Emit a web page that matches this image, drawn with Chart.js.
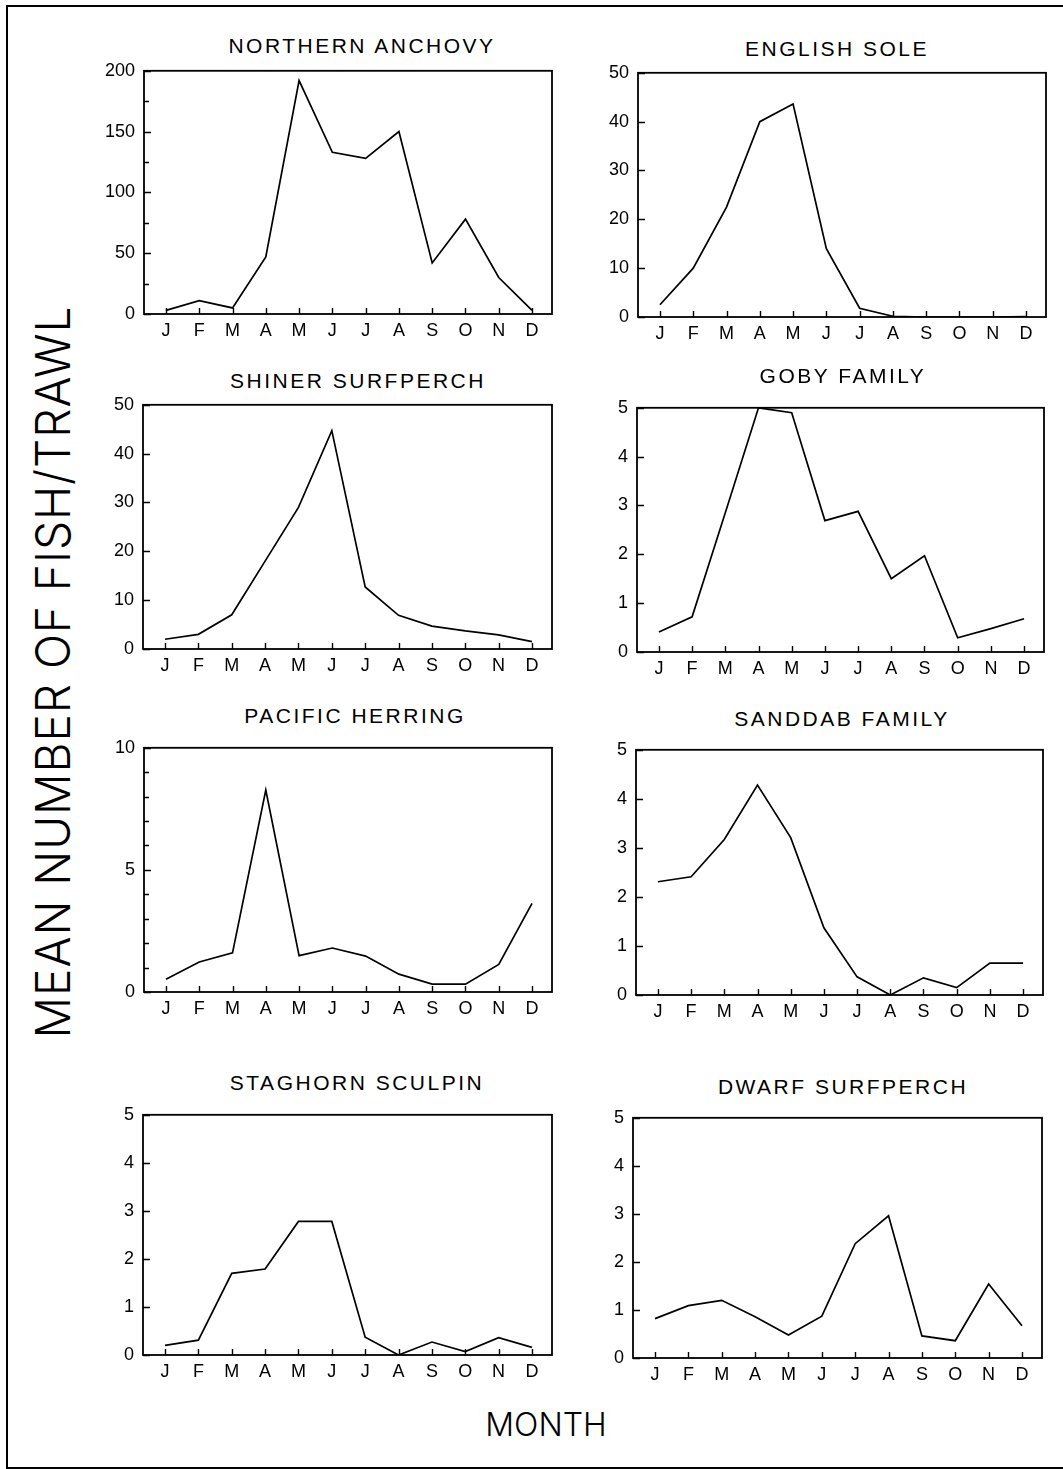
<!DOCTYPE html>
<html>
<head>
<meta charset="utf-8">
<script src="https://cdn.jsdelivr.net/npm/chart.js@4"></script>
<style>
  html, body { margin: 0; padding: 0; background: #fff; }
  #page { position: relative; width: 1063px; height: 1469px; overflow: hidden; background: #fff; }
  #page canvas { position: absolute; }
  .frame { position: absolute; left: 6px; top: 5px; width: 1080px; height: 1460px; border: 2px solid #000; }
  .titre { position: absolute; transform: translate(-50%, -50%); white-space: nowrap;
           font: 21px 'Liberation Sans', Arial, sans-serif; letter-spacing: 2.5px; color: #000; line-height: 1; }
  .ylab { position: absolute; left: 52px; top: 672px; white-space: nowrap; color: #000; line-height: 1;
          font: 300 48px Inter, Roboto, 'Liberation Sans', sans-serif; letter-spacing: 1px;
          transform: translate(-50%, -50%) rotate(-90deg) scaleX(0.96); }
  .xlab { position: absolute; left: 546px; top: 1424px; white-space: nowrap; color: #000; line-height: 1;
          font: 300 32px Inter, Roboto, 'Liberation Sans', sans-serif; transform: translate(-50%, -50%); }
</style>
</head>
<body>
<div id="page">
  <div class="frame"></div>
  <div class="ylab">MEAN NUMBER OF FISH/TRAWL</div>
  <div class="xlab">MONTH</div>
</div>
<script>
// Données (moyenne de poissons par trait, par mois)
const MONTHS = ['J', 'F', 'M', 'A', 'M', 'J', 'J', 'A', 'S', 'O', 'N', 'D'];

const anchovy     = [3, 11, 5, 47, 192, 133, 128, 150, 42, 78, 30, 3];
const englishSole = [2.5, 10, 22.5, 40, 43.6, 14, 1.8, 0.15, 0, 0, 0, 0.1];
const shiner      = [2, 3, 7, 18, 29, 44.7, 12.7, 6.9, 4.7, 3.7, 2.9, 1.5];
const goby        = [0.41, 0.72, 2.85, 5.0, 4.9, 2.69, 2.88, 1.5, 1.97, 0.29, 0.48, 0.68];
const herring     = [0.52, 1.23, 1.6, 8.27, 1.49, 1.8, 1.47, 0.73, 0.32, 0.32, 1.13, 3.63];
const sanddab     = [2.31, 2.41, 3.17, 4.28, 3.21, 1.37, 0.37, 0, 0.35, 0.15, 0.65, 0.65];
const staghorn    = [0.2, 0.31, 1.7, 1.79, 2.78, 2.78, 0.37, 0, 0.27, 0.07, 0.36, 0.16];
const dwarf       = [0.82, 1.09, 1.2, 0.86, 0.48, 0.87, 2.38, 2.96, 0.46, 0.36, 1.54, 0.67];

const titles = ['NORTHERN ANCHOVY', 'ENGLISH SOLE', 'SHINER SURFPERCH', 'GOBY FAMILY',
                'PACIFIC HERRING', 'SANDDAB FAMILY', 'STAGHORN SCULPIN', 'DWARF SURFPERCH'];
const series = [anchovy, englishSole, shiner, goby, herring, sanddab, staghorn, dwarf];
const yMax   = [200, 50, 50, 5, 10, 5, 5, 5];
const yStep  = [50, 10, 10, 1, 5, 1, 1, 1];
const yMinor = [25, 10, 10, 1, 1, 1, 1, 1];

// mise en page : cadre du graphe [gauche, haut, droite, bas] et centre du titre
const boxes = [
    [144, 66, 552, 314], [638, 68, 1046, 317],
    [143, 400, 552, 649], [637, 403, 1044, 652],
    [144, 743, 552, 992], [636, 745, 1043, 995],
    [143, 1110, 552, 1355], [633, 1113, 1042, 1358]
];
const titlePos = [[362, 45], [837, 48], [358, 380], [843, 375],
                  [355, 715], [842, 718], [357, 1082], [843, 1086]];

const FONT = { family: "'Liberation Sans', Arial, sans-serif", size: 18 };

// cadre + graduations vers l'intérieur
const cadre = {
    id: 'cadre',
    afterDraw(chart, args, opts) {
        const { ctx, chartArea: a, scales: { x, y } } = chart;
        ctx.save();
        ctx.strokeStyle = '#000';
        ctx.lineWidth = 1.8;
        ctx.strokeRect(a.left, a.top, a.right - a.left, a.bottom - a.top);
        ctx.lineWidth = 1.4;
        ctx.beginPath();
        for (let v = 0; v <= y.max + 1e-9; v += opts.minor) {
            const py = Math.round(y.getPixelForValue(v)) + 0.5;
            const r = v / opts.major;
            const major = Math.abs(r - Math.round(r)) < 1e-6;
            ctx.moveTo(a.left, py);
            ctx.lineTo(a.left + (major ? 7 : 5), py);
        }
        MONTHS.forEach((m, i) => {
            const px = Math.round(x.getPixelForValue(i)) + 0.5;
            ctx.moveTo(px, a.bottom);
            ctx.lineTo(px, a.bottom - 6);
        });
        ctx.stroke();
        ctx.restore();
    }
};

const page = document.getElementById('page');

series.forEach((values, k) => {
    const [l, t, r, b] = boxes[k];

    const titre = document.createElement('div');
    titre.className = 'titre';
    titre.textContent = titles[k];
    titre.style.left = titlePos[k][0] + 'px';
    titre.style.top = titlePos[k][1] + 'px';
    page.appendChild(titre);

    const canvas = document.createElement('canvas');
    canvas.width = (r - l) + 105;
    canvas.height = (b - t) + 60;
    canvas.style.left = (l - 80) + 'px';
    canvas.style.top = (t - 15) + 'px';
    page.appendChild(canvas);

    new Chart(canvas.getContext('2d'), {
        type: 'line',
        data: {
            datasets: [{
                data: values.map((v, i) => ({ x: i, y: v })),
                borderColor: '#000',
                borderWidth: 1.7,
                pointRadius: 0,
                tension: 0,
                fill: false
            }]
        },
        options: {
            responsive: false,
            animation: false,
            devicePixelRatio: 1,
            layout: { padding: { top: 15, right: 25, left: 0, bottom: 0 } },
            plugins: {
                legend: { display: false },
                tooltip: { enabled: false },
                cadre: { major: yStep[k], minor: yMinor[k] }
            },
            scales: {
                x: {
                    type: 'linear',
                    min: -0.66,
                    max: 11.6,
                    grid: { display: false, drawTicks: false },
                    border: { display: false },
                    ticks: {
                        autoSkip: false, maxRotation: 0, padding: 6,
                        font: FONT, color: '#000',
                        callback: v => MONTHS[v] ?? ''
                    },
                    afterBuildTicks: s => { s.ticks = MONTHS.map((m, i) => ({ value: i })); },
                    afterFit: s => { s.height = 45; }
                },
                y: {
                    min: 0,
                    max: yMax[k],
                    grid: { display: false, drawTicks: false },
                    border: { display: false },
                    ticks: { stepSize: yStep[k], padding: 9, font: FONT, color: '#000' },
                    afterFit: s => { s.width = 80; }
                }
            }
        },
        plugins: [cadre]
    });
});
</script>
</body>
</html>
